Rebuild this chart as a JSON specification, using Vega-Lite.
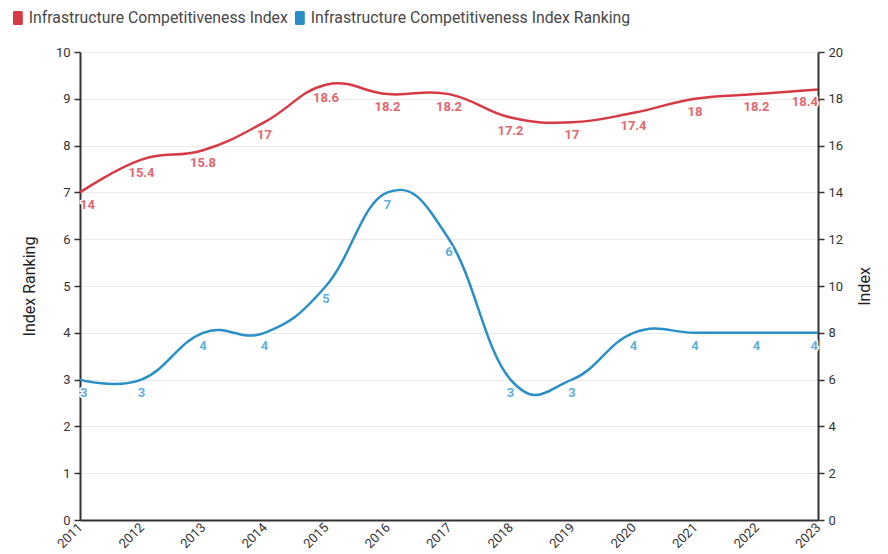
{
  "$schema": "https://vega.github.io/schema/vega-lite/v6.json",
  "width": 738,
  "height": 468,
  "autosize": {"type": "none"},
  "padding": {"left": 80, "top": 52, "right": 70, "bottom": 34},
  "background": "white",
  "config": {
    "font": "Roboto",
    "view": {"stroke": null},
    "axis": {
      "labelFont": "Roboto",
      "labelFontSize": 13,
      "labelColor": "#333",
      "labelPadding": 4,
      "titleFont": "Roboto",
      "titleFontSize": 16,
      "titleFontWeight": "normal",
      "titleColor": "#222",
      "domainColor": "#333",
      "domainWidth": 2,
      "tickColor": "#333",
      "tickWidth": 1.5,
      "tickSize": 6,
      "gridColor": "#ebebeb",
      "gridWidth": 1,
      "labelOverlap": false
    },
    "legend": {
      "labelFont": "Roboto",
      "labelFontSize": 15.8,
      "labelColor": "#484848"
    }
  },
  "data": {
    "values": [
      {"year": "2011", "series": "Infrastructure Competitiveness Index", "value": 14},
      {"year": "2012", "series": "Infrastructure Competitiveness Index", "value": 15.4},
      {"year": "2013", "series": "Infrastructure Competitiveness Index", "value": 15.8},
      {"year": "2014", "series": "Infrastructure Competitiveness Index", "value": 17},
      {"year": "2015", "series": "Infrastructure Competitiveness Index", "value": 18.6},
      {"year": "2016", "series": "Infrastructure Competitiveness Index", "value": 18.2},
      {"year": "2017", "series": "Infrastructure Competitiveness Index", "value": 18.2},
      {"year": "2018", "series": "Infrastructure Competitiveness Index", "value": 17.2},
      {"year": "2019", "series": "Infrastructure Competitiveness Index", "value": 17},
      {"year": "2020", "series": "Infrastructure Competitiveness Index", "value": 17.4},
      {"year": "2021", "series": "Infrastructure Competitiveness Index", "value": 18},
      {"year": "2022", "series": "Infrastructure Competitiveness Index", "value": 18.2},
      {"year": "2023", "series": "Infrastructure Competitiveness Index", "value": 18.4},
      {"year": "2011", "series": "Infrastructure Competitiveness Index Ranking", "value": 3},
      {"year": "2012", "series": "Infrastructure Competitiveness Index Ranking", "value": 3},
      {"year": "2013", "series": "Infrastructure Competitiveness Index Ranking", "value": 4},
      {"year": "2014", "series": "Infrastructure Competitiveness Index Ranking", "value": 4},
      {"year": "2015", "series": "Infrastructure Competitiveness Index Ranking", "value": 5},
      {"year": "2016", "series": "Infrastructure Competitiveness Index Ranking", "value": 7},
      {"year": "2017", "series": "Infrastructure Competitiveness Index Ranking", "value": 6},
      {"year": "2018", "series": "Infrastructure Competitiveness Index Ranking", "value": 3},
      {"year": "2019", "series": "Infrastructure Competitiveness Index Ranking", "value": 3},
      {"year": "2020", "series": "Infrastructure Competitiveness Index Ranking", "value": 4},
      {"year": "2021", "series": "Infrastructure Competitiveness Index Ranking", "value": 4},
      {"year": "2022", "series": "Infrastructure Competitiveness Index Ranking", "value": 4},
      {"year": "2023", "series": "Infrastructure Competitiveness Index Ranking", "value": 4}
    ]
  },
  "encoding": {
    "x": {
      "field": "year",
      "type": "ordinal",
      "scale": {"type": "point", "padding": 0},
      "axis": {
        "title": null,
        "labelAngle": -45,
        "labelAlign": "right",
        "labelBaseline": "middle",
        "labelPadding": 5,
        "tickSize": 0,
        "grid": false
      }
    }
  },
  "layer": [
    {
      "transform": [{"filter": "datum.series === 'Infrastructure Competitiveness Index Ranking'"}],
      "encoding": {
        "y": {
          "field": "value",
          "type": "quantitative",
          "scale": {"domain": [0, 10], "nice": false},
          "axis": {
            "orient": "left",
            "title": "Index Ranking",
            "tickCount": 10,
            "grid": true,
            "titlePadding": 18
          }
        }
      },
      "layer": [
        {
          "mark": {"type": "line", "interpolate": "cardinal", "tension": -0.25, "strokeWidth": 2.5},
          "encoding": {
            "color": {
              "field": "series",
              "type": "nominal",
              "scale": {
                "domain": ["Infrastructure Competitiveness Index", "Infrastructure Competitiveness Index Ranking"],
                "range": ["#d63a45", "#2a8fc6"]
              },
              "legend": {
                "title": null,
                "orient": "none",
                "direction": "horizontal",
                "legendX": -70,
                "legendY": -42,
                "symbolType": "M-0.5,-1 L0.5,-1 Q0.7,-1 0.7,-0.8 L0.7,0.8 Q0.7,1 0.5,1 L-0.5,1 Q-0.7,1 -0.7,0.8 L-0.7,-0.8 Q-0.7,-1 -0.5,-1 Z",
                "symbolSize": 196,
                "symbolStrokeWidth": 0,
                "labelOffset": 3,
                "columnPadding": 4,
                "labelLimit": 400,
                "encode": {
                  "symbols": {
                    "update": {
                      "fill": {"scale": "color", "field": "value"},
                      "fillOpacity": {"value": 1},
                      "strokeWidth": {"value": 0}
                    }
                  }
                }
              }
            }
          }
        },
        {
          "transform": [{"filter": "datum.year !== '2011' && datum.year !== '2023'"}],
          "layer": [
            {"mark": {"type": "text", "align": "center", "baseline": "middle", "dy": 13, "fontSize": 13, "fontWeight": "bold", "color": "white", "stroke": "white", "strokeWidth": 3, "strokeJoin": "round"}},
            {"mark": {"type": "text", "align": "center", "baseline": "middle", "dy": 13, "fontSize": 13, "fontWeight": "bold", "color": "#62b0da"}}
          ],
          "encoding": {"text": {"field": "value", "type": "quantitative"}}
        },
        {
          "transform": [{"filter": "datum.year === '2011'"}],
          "layer": [
            {"mark": {"type": "text", "align": "left", "baseline": "middle", "dy": 13, "fontSize": 13, "fontWeight": "bold", "color": "white", "stroke": "white", "strokeWidth": 3, "strokeJoin": "round"}},
            {"mark": {"type": "text", "align": "left", "baseline": "middle", "dy": 13, "fontSize": 13, "fontWeight": "bold", "color": "#62b0da"}}
          ],
          "encoding": {"text": {"field": "value", "type": "quantitative"}}
        },
        {
          "transform": [{"filter": "datum.year === '2023'"}],
          "layer": [
            {"mark": {"type": "text", "align": "right", "baseline": "middle", "dy": 13, "fontSize": 13, "fontWeight": "bold", "color": "white", "stroke": "white", "strokeWidth": 3, "strokeJoin": "round"}},
            {"mark": {"type": "text", "align": "right", "baseline": "middle", "dy": 13, "fontSize": 13, "fontWeight": "bold", "color": "#62b0da"}}
          ],
          "encoding": {"text": {"field": "value", "type": "quantitative"}}
        }
      ]
    },
    {
      "transform": [{"filter": "datum.series === 'Infrastructure Competitiveness Index'"}],
      "encoding": {
        "y": {
          "field": "value",
          "type": "quantitative",
          "scale": {"domain": [0, 20], "nice": false},
          "axis": {
            "orient": "right",
            "title": "Index",
            "tickCount": 10,
            "grid": false,
            "titleAngle": 270,
            "titlePadding": 30
          }
        }
      },
      "layer": [
        {
          "mark": {"type": "line", "interpolate": "cardinal", "tension": -0.25, "strokeWidth": 2.5},
          "encoding": {
            "color": {"field": "series", "type": "nominal"}
          }
        },
        {
          "transform": [{"filter": "datum.year !== '2011' && datum.year !== '2023'"}],
          "layer": [
            {"mark": {"type": "text", "align": "center", "baseline": "middle", "dy": 13, "fontSize": 13, "fontWeight": "bold", "color": "white", "stroke": "white", "strokeWidth": 3, "strokeJoin": "round"}},
            {"mark": {"type": "text", "align": "center", "baseline": "middle", "dy": 13, "fontSize": 13, "fontWeight": "bold", "color": "#e4666f"}}
          ],
          "encoding": {"text": {"field": "value", "type": "quantitative"}}
        },
        {
          "transform": [{"filter": "datum.year === '2011'"}],
          "layer": [
            {"mark": {"type": "text", "align": "left", "baseline": "middle", "dy": 13, "fontSize": 13, "fontWeight": "bold", "color": "white", "stroke": "white", "strokeWidth": 3, "strokeJoin": "round"}},
            {"mark": {"type": "text", "align": "left", "baseline": "middle", "dy": 13, "fontSize": 13, "fontWeight": "bold", "color": "#e4666f"}}
          ],
          "encoding": {"text": {"field": "value", "type": "quantitative"}}
        },
        {
          "transform": [{"filter": "datum.year === '2023'"}],
          "layer": [
            {"mark": {"type": "text", "align": "right", "baseline": "middle", "dy": 13, "fontSize": 13, "fontWeight": "bold", "color": "white", "stroke": "white", "strokeWidth": 3, "strokeJoin": "round"}},
            {"mark": {"type": "text", "align": "right", "baseline": "middle", "dy": 13, "fontSize": 13, "fontWeight": "bold", "color": "#e4666f"}}
          ],
          "encoding": {"text": {"field": "value", "type": "quantitative"}}
        }
      ]
    }
  ],
  "resolve": {"scale": {"y": "independent"}}
}
